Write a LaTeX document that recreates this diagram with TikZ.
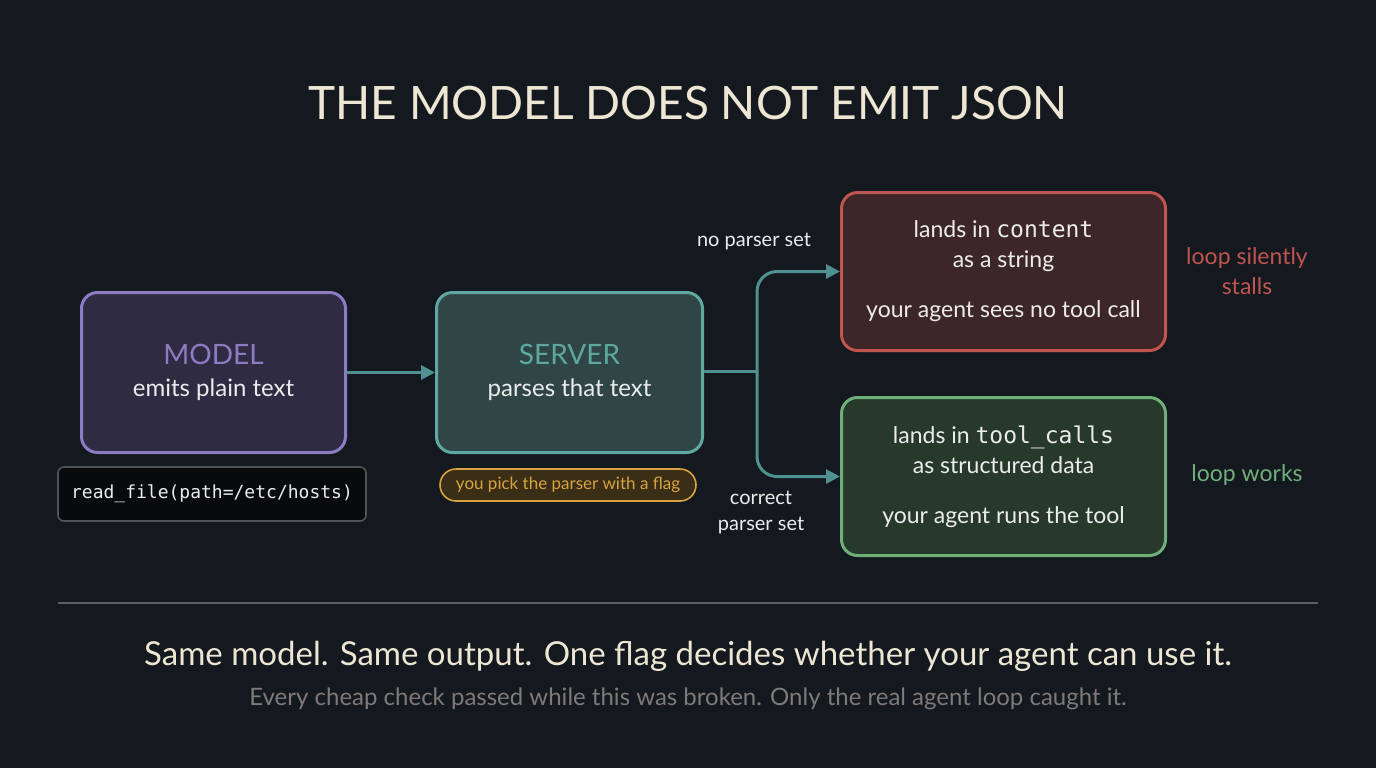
\documentclass[tikz,border=0pt]{standalone}
\usepackage{fontspec}
\setmainfont{Lato}
\setmonofont{DejaVu Sans Mono}
\usetikzlibrary{arrows.meta}
\definecolor{bg}{HTML}{14181F}
\definecolor{titlec}{HTML}{EDE6D3}
\definecolor{txt}{HTML}{ECECEC}
\definecolor{modf}{HTML}{2E2B42}\definecolor{modb}{HTML}{8E7CC3}
\definecolor{serf}{HTML}{2F4546}\definecolor{serb}{HTML}{5FA8A0}
\definecolor{redf}{HTML}{3D2627}\definecolor{redb}{HTML}{C0544F}
\definecolor{grnf}{HTML}{26392B}\definecolor{grnb}{HTML}{6FB07A}
\definecolor{arr}{HTML}{4F9090}
\definecolor{pillf}{HTML}{3A2E16}\definecolor{pillb}{HTML}{D9A440}
\definecolor{grey}{HTML}{7F7A78}
\begin{document}
\begin{tikzpicture}[x=0.5pt,y=-0.5pt,
 box/.style={draw,line width=1.5pt,rounded corners=8pt,anchor=north west,align=center,text=txt,font=\fontsize{12}{15}\selectfont},
 conn/.style={draw=arr,line width=1.5pt,-{Triangle[length=7pt,width=7pt]}},
 lab/.style={text=txt,font=\fontsize{10}{13}\selectfont,align=center}]
\fill[bg] (0,0) rectangle (1376,768);
\useasboundingbox (0,0) rectangle (1376,768);
\node[text=titlec,font=\fontsize{23}{26}\selectfont] (title) at (688,103) {THE MODEL DOES NOT EMIT JSON};
\node[box,draw=modb,fill=modf,minimum width=132pt,minimum height=80pt] (model) at (80,291) {};
\node[align=center,text=txt,font=\fontsize{12}{16}\selectfont] at (model.center) {\textcolor{modb}{\fontsize{14}{16}\selectfont MODEL}\\emits plain text};
\node[box,draw=serb,fill=serf,minimum width=133pt,minimum height=80pt] (server) at (435,291) {};
\node[align=center,text=txt,font=\fontsize{12}{16}\selectfont] at (server.center) {\textcolor{serb}{\fontsize{14}{16}\selectfont SERVER}\\parses that text};
\node[box,draw=redb,fill=redf,minimum width=162pt,minimum height=79pt] (red) at (840,191) {};
\node[align=center,text=txt,font=\fontsize{11.5}{15}\selectfont] at (red.center) {lands in \texttt{content}\\as a string\\[10pt]your agent sees no tool call};
\node[box,draw=grnb,fill=grnf,minimum width=162pt,minimum height=79pt] (grn) at (840,396) {};
\node[align=center,text=txt,font=\fontsize{11.5}{15}\selectfont] at (grn.center) {lands in \texttt{tool\_calls}\\as structured data\\[10pt]your agent runs the tool};
\node[draw=white!25!bg,fill=black!60!bg,line width=0.8pt,rounded corners=3pt,minimum width=154pt,minimum height=27pt,text=txt,font=\ttfamily\fontsize{9}{11}\selectfont] (code) at (212,494) {read\_file(path=/etc/hosts)};
\node[draw=pillb,fill=pillf,line width=0.8pt,rounded corners=8pt,minimum width=128pt,minimum height=16pt,inner sep=1pt,text=pillb,font=\fontsize{8.5}{10}\selectfont] (pill) at (568,485) {you pick the parser with a flag};
\draw[conn] (model.east) -- (server.west);
\coordinate (j) at (757,371);
\draw[draw=arr,line width=1.5pt] (server.east |- j) -- (j);
\draw[conn,rounded corners=10pt] (j) |- (red.west);
\draw[conn,rounded corners=10pt] (j) |- (grn.west);
\node[lab] (l1) at (754,241) {no parser set};
\node[lab] (l2) at (761,512) {correct\\parser set};
\node[text=redb,align=center,font=\fontsize{11.5}{15}\selectfont] (s1) at (1247,271) {loop silently\\stalls};
\node[text=grnb,align=center,font=\fontsize{11.5}{15}\selectfont] (s2) at (1247,475) {loop works};
\draw[draw=white!30!bg,line width=0.8pt] (58,603) -- (1318,603);
\node[text=titlec,font=\fontsize{16.5}{20}\selectfont] (sub) at (688,656) {Same model. Same output. One flag decides whether your agent can use it.};
\node[text=grey,font=\fontsize{12}{14}\selectfont] (sub2) at (688,699) {Every cheap check passed while this was broken. Only the real agent loop caught it.};
\end{tikzpicture}
\end{document}
